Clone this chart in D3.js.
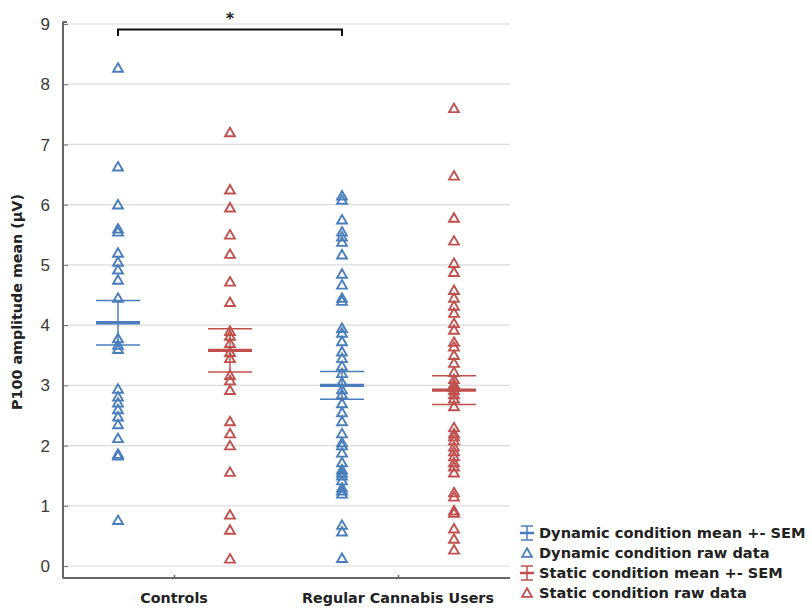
<!DOCTYPE html>
<html><head><meta charset="utf-8">
<script src="https://cdn.jsdelivr.net/npm/d3@7"></script>
<style>body{margin:0;background:#fff;} svg{display:block;}</style>
</head><body>
<script>
const groups = ["Controls", "Regular Cannabis Users"];
const conditions = ["Dynamic", "Static"];
const yTicks = [0,1,2,3,4,5,6,7,8,9];
const controlsDynamic = [8.27,6.63,6.0,5.6,5.55,5.2,5.05,4.92,4.75,4.45,3.78,3.67,3.6,2.94,2.81,2.71,2.6,2.48,2.35,2.12,1.86,1.83,0.76];
const controlsStatic = [7.2,6.25,5.95,5.5,5.18,4.72,4.38,3.9,3.82,3.7,3.55,3.45,3.17,3.08,2.92,2.4,2.2,2.0,1.56,0.85,0.6,0.12];
const rcuDynamic = [6.15,6.08,5.75,5.55,5.47,5.38,5.17,4.85,4.67,4.45,4.4,3.95,3.87,3.73,3.56,3.45,3.32,3.2,3.05,2.93,2.85,2.7,2.55,2.4,2.2,2.05,2.0,1.88,1.72,1.6,1.55,1.5,1.42,1.3,1.25,1.2,0.68,0.57,0.13];
const rcuStatic = [7.6,6.48,5.78,5.4,5.03,4.88,4.58,4.45,4.32,4.2,4.03,3.92,3.72,3.64,3.5,3.37,3.22,3.1,3.02,2.97,2.92,2.85,2.78,2.65,2.3,2.2,2.15,2.08,1.98,1.9,1.82,1.72,1.65,1.55,1.22,1.15,0.92,0.88,0.62,0.45,0.27];
const meansDynamic = [4.04, 3.0];
const semDynamic = [0.37, 0.23];
const meansStatic = [3.58, 2.92];
const semStatic = [0.36, 0.24];
const legendLabels = ["Dynamic condition mean +- SEM","Dynamic condition raw data","Static condition mean +- SEM","Static condition raw data"];

const W=812,H=612;
const blue="#4a7ebb", red="#c0504d";
const svg=d3.select("body").append("svg").attr("width",W).attr("height",H);

const y=d3.scaleLinear().domain([0,9]).range([566,24]);
const x=d3.scalePoint().domain(groups).range([62,510]).padding(0.5);
const xc=d3.scaleBand().domain(conditions).range([-112,112]).padding(0);
const axisX=63, bottomY=578;

// gridlines
svg.append("g").selectAll("line").data(yTicks).join("line")
 .attr("x1",axisX+4).attr("x2",510).attr("y1",d=>y(d)).attr("y2",d=>y(d))
 .attr("stroke","#dcdcdc").attr("stroke-width",1.2);

// y axis
const ya=svg.append("g").attr("transform",`translate(${axisX},0)`)
 .call(d3.axisRight(y).tickValues(yTicks).tickSize(5).tickFormat(""));
ya.select(".domain").remove();
ya.selectAll(".tick line").attr("stroke","#777").attr("stroke-width",1.2);
svg.append("line").attr("x1",axisX).attr("x2",axisX).attr("y1",y(9)-2).attr("y2",bottomY).attr("stroke","#666").attr("stroke-width",2);
svg.append("line").attr("x1",axisX).attr("x2",axisX+4).attr("y1",y(9)-2).attr("y2",y(9)-2).attr("stroke","#666").attr("stroke-width",2);
svg.append("g").selectAll("text").data(yTicks).join("text")
 .attr("x",50).attr("y",d=>y(d)).attr("dy","0.36em").attr("text-anchor","end")
 .attr("font-family","Liberation Sans, Arial, sans-serif").attr("font-size",17).attr("fill","#3a3a3a").text(d=>d);

// x axis
const xa=svg.append("g").attr("transform",`translate(0,${bottomY})`)
 .call(d3.axisTop(x).tickSize(3).tickFormat(""));
xa.select(".domain").attr("d",`M${axisX},0H510`).attr("stroke","#666").attr("stroke-width",2);
xa.selectAll(".tick line").attr("stroke","#666").attr("stroke-width",1.5);
svg.append("g").selectAll("text").data(groups).join("text")
 .attr("x",d=>x(d)).attr("y",603).attr("text-anchor","middle")
 .attr("font-family","DejaVu Sans, sans-serif").attr("font-weight","bold").attr("font-size",14.3).attr("fill","#222").text(d=>d);

// y label
svg.append("text").attr("transform","translate(22,302) rotate(-90)").attr("text-anchor","middle")
 .attr("font-family","DejaVu Sans, sans-serif").attr("font-weight","bold").attr("font-size",14.3).attr("fill","#222")
 .text("P100 amplitude mean (µV)");

// raw data
const series=[
 {g:groups[0],c:"Dynamic",vals:controlsDynamic,col:blue},
 {g:groups[0],c:"Static",vals:controlsStatic,col:red},
 {g:groups[1],c:"Dynamic",vals:rcuDynamic,col:blue},
 {g:groups[1],c:"Static",vals:rcuStatic,col:red}];
const tri=d3.symbol().type(d3.symbolTriangle).size(42);
const cx=s=>x(s.g)+xc(s.c)+xc.bandwidth()/2;
series.forEach(s=>{
 svg.append("g").selectAll("path").data(s.vals).join("path")
  .attr("d",tri).attr("transform",d=>`translate(${cx(s)},${y(d)+1})`)
  .attr("fill","none").attr("stroke",s.col).attr("stroke-width",1.9);
});

// means +- SEM
const ms=[];
groups.forEach((g,i)=>{
 ms.push({g,c:"Dynamic",m:meansDynamic[i],e:semDynamic[i],col:blue});
 ms.push({g,c:"Static",m:meansStatic[i],e:semStatic[i],col:red});
});
const hw=22;
ms.forEach(s=>{
 const X=cx(s); const gg=svg.append("g").attr("stroke",s.col);
 gg.append("line").attr("x1",X).attr("x2",X).attr("y1",y(s.m+s.e)).attr("y2",y(s.m-s.e)).attr("stroke-width",1.5);
 gg.append("line").attr("x1",X-hw).attr("x2",X+hw).attr("y1",y(s.m+s.e)).attr("y2",y(s.m+s.e)).attr("stroke-width",1.5);
 gg.append("line").attr("x1",X-hw).attr("x2",X+hw).attr("y1",y(s.m-s.e)).attr("y2",y(s.m-s.e)).attr("stroke-width",1.5);
 gg.append("line").attr("x1",X-hw).attr("x2",X+hw).attr("y1",y(s.m)).attr("y2",y(s.m)).attr("stroke-width",3.4);
});

// significance bracket
const bx1=cx(series[0]), bx2=cx(series[2]);
svg.append("path").attr("d",`M${bx1},36V29.5H${bx2}V36`).attr("fill","none").attr("stroke","#111").attr("stroke-width",2);
svg.append("text").attr("x",(bx1+bx2)/2).attr("y",24).attr("text-anchor","middle")
 .attr("font-family","DejaVu Sans, sans-serif").attr("font-weight","bold").attr("font-size",16).attr("fill","#222").text("*");

// legend
const ly=[533,553,573,593];
const lg=svg.append("g");
[blue,blue,red,red].forEach((col,i)=>{
 const Y=ly[i], X=527;
 if(i%2===0){
  const g=lg.append("g").attr("stroke",col).attr("stroke-width",1.5);
  g.append("line").attr("x1",X).attr("x2",X).attr("y1",Y-7).attr("y2",Y+7);
  g.append("line").attr("x1",X-6).attr("x2",X+6).attr("y1",Y-7).attr("y2",Y-7);
  g.append("line").attr("x1",X-6).attr("x2",X+6).attr("y1",Y+7).attr("y2",Y+7);
  g.append("line").attr("x1",X-7).attr("x2",X+7).attr("y1",Y).attr("y2",Y).attr("stroke-width",2.5);
 } else {
  lg.append("path").attr("d",tri).attr("transform",`translate(${X},${Y+1})`).attr("fill","none").attr("stroke",col).attr("stroke-width",1.8);
 }
 lg.append("text").attr("x",539).attr("y",Y).attr("dy","0.36em")
  .attr("font-family","DejaVu Sans, sans-serif").attr("font-weight","bold").attr("font-size",14.6).attr("fill","#222").text(legendLabels[i]);
});
</script>
</body></html>
